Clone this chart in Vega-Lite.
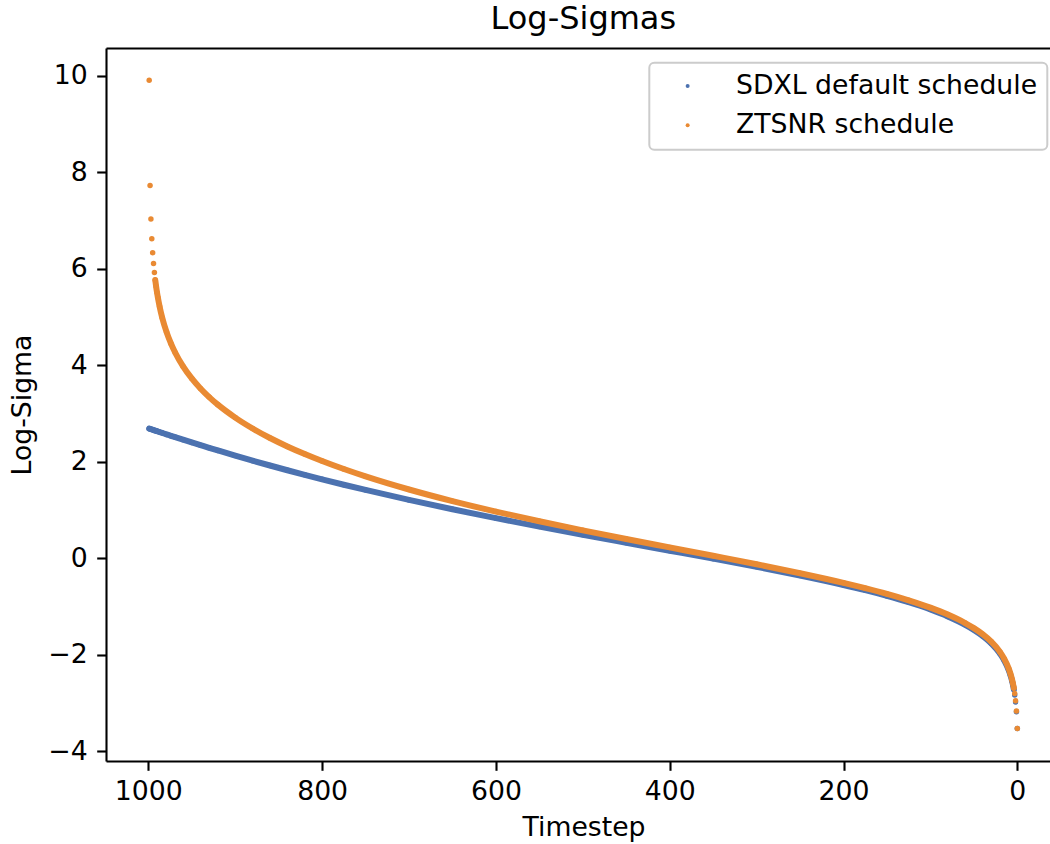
{
  "$schema": "https://vega.github.io/schema/vega-lite/v6.json",
  "width": 944,
  "height": 713,
  "autosize": {"type": "none"},
  "padding": {"left": 106, "top": 48, "right": 0, "bottom": 83},
  "title": {"text": "Log-Sigmas", "fontSize": 32, "font": "DejaVu Sans", "fontWeight": "normal", "color": "black", "anchor": "middle", "frame": "group", "dx": 5.3, "baseline": "alphabetic", "offset": -13},
  "data": {"values": [
    {"t": 999, "SDXL default schedule": 2.682, "ZTSNR schedule": 9.9},
    {"t": 998, "SDXL default schedule": 2.676, "ZTSNR schedule": 7.721},
    {"t": 997, "SDXL default schedule": 2.670, "ZTSNR schedule": 7.025},
    {"t": 996, "SDXL default schedule": 2.664, "ZTSNR schedule": 6.617},
    {"t": 995, "SDXL default schedule": 2.658, "ZTSNR schedule": 6.327},
    {"t": 994, "SDXL default schedule": 2.652, "ZTSNR schedule": 6.102},
    {"t": 993, "SDXL default schedule": 2.646, "ZTSNR schedule": 5.918},
    {"t": 992, "SDXL default schedule": 2.640, "ZTSNR schedule": 5.761},
    {"t": 991, "SDXL default schedule": 2.634, "ZTSNR schedule": 5.625},
    {"t": 990, "SDXL default schedule": 2.628, "ZTSNR schedule": 5.505},
    {"t": 989, "SDXL default schedule": 2.622, "ZTSNR schedule": 5.398},
    {"t": 987, "SDXL default schedule": 2.610, "ZTSNR schedule": 5.211},
    {"t": 984, "SDXL default schedule": 2.592, "ZTSNR schedule": 4.981},
    {"t": 979, "SDXL default schedule": 2.562, "ZTSNR schedule": 4.682},
    {"t": 974, "SDXL default schedule": 2.533, "ZTSNR schedule": 4.448},
    {"t": 969, "SDXL default schedule": 2.504, "ZTSNR schedule": 4.254},
    {"t": 960, "SDXL default schedule": 2.452, "ZTSNR schedule": 3.971},
    {"t": 950, "SDXL default schedule": 2.395, "ZTSNR schedule": 3.721},
    {"t": 940, "SDXL default schedule": 2.339, "ZTSNR schedule": 3.513},
    {"t": 930, "SDXL default schedule": 2.283, "ZTSNR schedule": 3.335},
    {"t": 920, "SDXL default schedule": 2.229, "ZTSNR schedule": 3.178},
    {"t": 900, "SDXL default schedule": 2.122, "ZTSNR schedule": 2.910},
    {"t": 880, "SDXL default schedule": 2.018, "ZTSNR schedule": 2.684},
    {"t": 860, "SDXL default schedule": 1.917, "ZTSNR schedule": 2.487},
    {"t": 840, "SDXL default schedule": 1.819, "ZTSNR schedule": 2.313},
    {"t": 820, "SDXL default schedule": 1.724, "ZTSNR schedule": 2.155},
    {"t": 800, "SDXL default schedule": 1.631, "ZTSNR schedule": 2.010},
    {"t": 775, "SDXL default schedule": 1.519, "ZTSNR schedule": 1.844},
    {"t": 750, "SDXL default schedule": 1.411, "ZTSNR schedule": 1.692},
    {"t": 700, "SDXL default schedule": 1.204, "ZTSNR schedule": 1.420},
    {"t": 650, "SDXL default schedule": 1.010, "ZTSNR schedule": 1.179},
    {"t": 600, "SDXL default schedule": 0.826, "ZTSNR schedule": 0.962},
    {"t": 550, "SDXL default schedule": 0.651, "ZTSNR schedule": 0.761},
    {"t": 500, "SDXL default schedule": 0.481, "ZTSNR schedule": 0.574},
    {"t": 450, "SDXL default schedule": 0.316, "ZTSNR schedule": 0.394},
    {"t": 400, "SDXL default schedule": 0.152, "ZTSNR schedule": 0.220},
    {"t": 350, "SDXL default schedule": -0.013, "ZTSNR schedule": 0.046},
    {"t": 300, "SDXL default schedule": -0.183, "ZTSNR schedule": -0.130},
    {"t": 250, "SDXL default schedule": -0.363, "ZTSNR schedule": -0.315},
    {"t": 200, "SDXL default schedule": -0.559, "ZTSNR schedule": -0.515},
    {"t": 175, "SDXL default schedule": -0.667, "ZTSNR schedule": -0.625},
    {"t": 150, "SDXL default schedule": -0.785, "ZTSNR schedule": -0.744},
    {"t": 125, "SDXL default schedule": -0.916, "ZTSNR schedule": -0.877},
    {"t": 100, "SDXL default schedule": -1.067, "ZTSNR schedule": -1.029},
    {"t": 80, "SDXL default schedule": -1.210, "ZTSNR schedule": -1.172},
    {"t": 60, "SDXL default schedule": -1.384, "ZTSNR schedule": -1.347},
    {"t": 50, "SDXL default schedule": -1.489, "ZTSNR schedule": -1.453},
    {"t": 40, "SDXL default schedule": -1.614, "ZTSNR schedule": -1.579},
    {"t": 30, "SDXL default schedule": -1.770, "ZTSNR schedule": -1.735},
    {"t": 20, "SDXL default schedule": -1.981, "ZTSNR schedule": -1.946},
    {"t": 15, "SDXL default schedule": -2.125, "ZTSNR schedule": -2.091},
    {"t": 10, "SDXL default schedule": -2.320, "ZTSNR schedule": -2.287},
    {"t": 8, "SDXL default schedule": -2.423, "ZTSNR schedule": -2.392},
    {"t": 6, "SDXL default schedule": -2.552, "ZTSNR schedule": -2.522},
    {"t": 5, "SDXL default schedule": -2.631, "ZTSNR schedule": -2.601},
    {"t": 4, "SDXL default schedule": -2.724, "ZTSNR schedule": -2.695},
    {"t": 3, "SDXL default schedule": -2.837, "ZTSNR schedule": -2.810},
    {"t": 2, "SDXL default schedule": -2.982, "ZTSNR schedule": -2.958},
    {"t": 1, "SDXL default schedule": -3.187, "ZTSNR schedule": -3.169},
    {"t": 0, "SDXL default schedule": -3.535, "ZTSNR schedule": -3.535}
  ]},
  "transform": [{"fold": ["SDXL default schedule", "ZTSNR schedule"], "as": ["series", "v"]}],
  "layer": [
    {
      "transform": [{"filter": "datum.series === 'SDXL default schedule' && datum.t >= 4"}],
      "mark": {"type": "line", "color": "#4c72b0", "strokeWidth": 6, "interpolate": "monotone", "strokeCap": "round"},
      "encoding": {
        "x": {"field": "t", "type": "quantitative", "title": "Timestep", "scale": {"domain": [1048.7, -37.6], "nice": false, "zero": false},
              "axis": {"values": [0, 200, 400, 600, 800, 1000], "format": "d", "labelPadding": 8, "titleX": 477.5, "titleY": 74, "titleBaseline": "alphabetic"}},
        "y": {"field": "v", "type": "quantitative", "title": "Log-Sigma", "scale": {"domain": [-4.207, 10.57], "nice": false, "zero": false},
              "axis": {"values": [-4, -2, 0, 2, 4, 6, 8, 10], "labelPadding": 9.5, "titleX": -76, "titleY": 356.5, "titleBaseline": "alphabetic"}},
        "order": {"field": "t", "sort": "descending"}
      }
    },
    {
      "transform": [{"filter": "datum.series === 'SDXL default schedule'"}],
      "mark": {"type": "circle", "size": 30, "opacity": 1},
      "encoding": {
        "x": {"field": "t", "type": "quantitative", "scale": {"domain": [1048.7, -37.6], "nice": false, "zero": false}, "axis": null},
        "y": {"field": "v", "type": "quantitative", "title": "Log-Sigma", "scale": {"domain": [-4.207, 10.57], "nice": false, "zero": false},
              "axis": {"values": [-4, -2, 0, 2, 4, 6, 8, 10], "labelPadding": 9.5, "titleX": -76, "titleY": 356.5, "titleBaseline": "alphabetic"}},
        "color": {"field": "series", "type": "nominal", "scale": {"domain": ["SDXL default schedule", "ZTSNR schedule"], "range": ["#4c72b0", "#e98a33"]},
                  "legend": {"title": null, "orient": "none", "legendX": 543.3, "legendY": 14.7}}
      }
    },
    {
      "transform": [{"filter": "datum.series === 'ZTSNR schedule' && datum.t >= 4 && datum.t <= 992"}],
      "mark": {"type": "line", "color": "#e98a33", "strokeWidth": 6, "interpolate": "monotone", "strokeCap": "round"},
      "encoding": {
        "x": {"field": "t", "type": "quantitative", "scale": {"domain": [1048.7, -37.6], "nice": false, "zero": false}, "axis": null},
        "y": {"field": "v", "type": "quantitative", "title": "Log-Sigma", "scale": {"domain": [-4.207, 10.57], "nice": false, "zero": false},
              "axis": {"values": [-4, -2, 0, 2, 4, 6, 8, 10], "labelPadding": 9.5, "titleX": -76, "titleY": 356.5, "titleBaseline": "alphabetic"}},
        "order": {"field": "t", "sort": "descending"}
      }
    },
    {
      "transform": [{"filter": "datum.series === 'ZTSNR schedule'"}],
      "mark": {"type": "circle", "size": 30, "opacity": 1},
      "encoding": {
        "x": {"field": "t", "type": "quantitative", "scale": {"domain": [1048.7, -37.6], "nice": false, "zero": false},
              "axis": {"orient": "top", "labels": false, "ticks": false, "title": null, "domain": true}},
        "y": {"field": "v", "type": "quantitative", "title": "Log-Sigma", "scale": {"domain": [-4.207, 10.57], "nice": false, "zero": false},
              "axis": {"values": [-4, -2, 0, 2, 4, 6, 8, 10], "labelPadding": 9.5, "titleX": -76, "titleY": 356.5, "titleBaseline": "alphabetic"}},
        "color": {"field": "series", "type": "nominal", "scale": {"domain": ["SDXL default schedule", "ZTSNR schedule"], "range": ["#4c72b0", "#e98a33"]},
                  "legend": {"title": null, "orient": "none", "legendX": 543.3, "legendY": 14.7}}
      }
    }
  ],
  "resolve": {"axis": {"x": "independent"}},
  "config": {
    "font": "DejaVu Sans",
    "view": {"stroke": null},
    "axis": {
      "grid": false,
      "domainColor": "black", "domainWidth": 2.1,
      "tickColor": "black", "tickWidth": 2.1, "tickSize": 9.3,
      "labelFont": "DejaVu Sans", "labelFontSize": 26.7, "labelColor": "black",
      "titleFont": "DejaVu Sans", "titleFontSize": 26.7, "titleFontWeight": "normal", "titleColor": "black"
    },
    "legend": {
      "labelFont": "DejaVu Sans", "labelFontSize": 26.7, "labelColor": "black", "labelLimit": 600,
      "symbolType": "circle", "symbolSize": 16, "symbolStrokeWidth": 0,
      "padding": 10, "rowPadding": 11.3, "labelOffset": 35, "symbolOffset": 15,
      "strokeColor": "#cccccc", "strokeWidth": 2, "fillColor": "white", "cornerRadius": 5
    }
  }
}
